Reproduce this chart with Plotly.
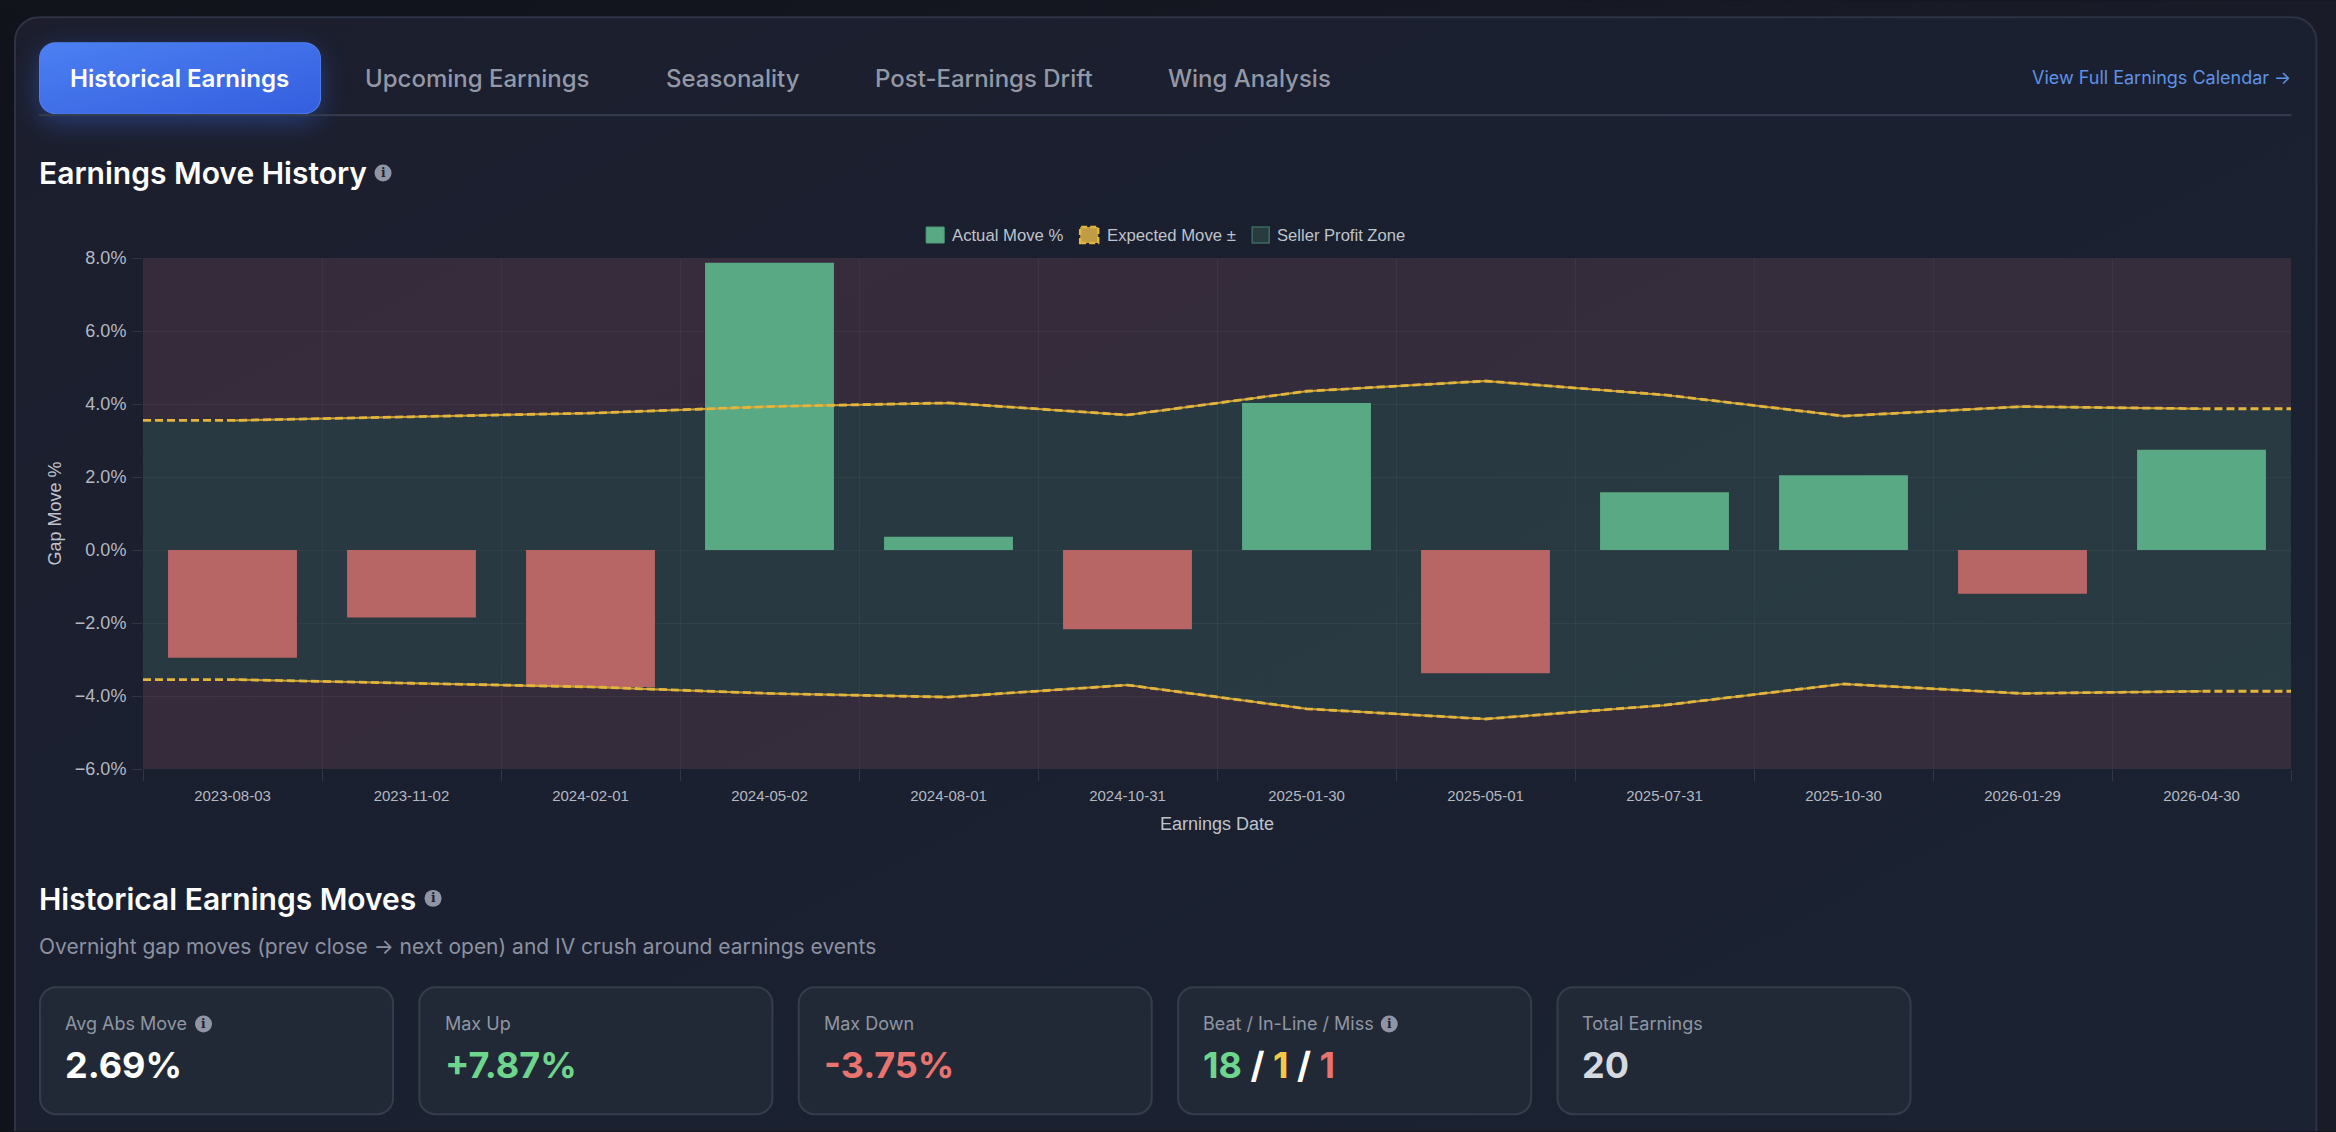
import base64
import plotly.graph_objects as go

# Earnings data
earnings_dates = ["2023-08-03", "2023-11-02", "2024-02-01", "2024-05-02", "2024-08-01", "2024-10-31",
                  "2025-01-30", "2025-05-01", "2025-07-31", "2025-10-30", "2026-01-29", "2026-04-30"]
actual_move = [-2.95, -1.85, -3.75, 7.87, 0.36, -2.17, 4.03, -3.38, 1.58, 2.05, -1.20, 2.75]
expected_move = [3.55, 3.65, 3.75, 3.93, 4.03, 3.70, 4.35, 4.63, 4.25, 3.67, 3.93, 3.87]

y_min, y_max = -6, 8
tab_labels = ["Upcoming Earnings", "Seasonality", "Post-Earnings Drift", "Wing Analysis"]
stat_labels = ["Avg Abs Move", "Max Up", "Max Down", "Beat / In-Line / Miss", "Total Earnings"]

W, H = 2336, 1132
L, R, T, B = 143.0, 2290.6, 258.0, 769.5
UI_FONT = "Inter"
CHART_FONT = "Liberation Sans"


def px(x):
    return (x - L) / (R - L)


def py(y):
    return (B - y) / (B - T)


def card_rects():
    rects = ""
    for i in range(5):
        x = 40 + i * 379.3
        rects += (f'<rect x="{x}" y="988" width="353" height="127" rx="16" '
                  'fill="#222936" stroke="#353c4a" stroke-width="2"/>')
    return rects


# Page chrome: backdrop, panel, active tab with its glow, tab rule and stat cards
page_svg = f"""<svg xmlns="http://www.w3.org/2000/svg" width="{W}" height="{H}" viewBox="0 0 {W} {H}">
<defs>
<linearGradient id="page" x1="0" y1="0" x2="1" y2="0"><stop offset="0" stop-color="#10131a"/><stop offset="1" stop-color="#191b28"/></linearGradient>
<linearGradient id="panel" x1="0" y1="0" x2="1" y2="1"><stop offset="0" stop-color="#1c1e2d"/><stop offset="0.5" stop-color="#1a2030"/><stop offset="1" stop-color="#1b2231"/></linearGradient>
<linearGradient id="tab" x1="0" y1="0" x2="1" y2="1"><stop offset="0" stop-color="#4c80f2"/><stop offset="1" stop-color="#345edf"/></linearGradient>
<filter id="glow" x="-30%" y="-60%" width="160%" height="220%"><feGaussianBlur stdDeviation="13"/></filter>
</defs>
<rect width="{W}" height="{H}" fill="url(#page)"/>
<rect x="15" y="17" width="2301" height="1200" rx="24" fill="url(#panel)" stroke="#2d3244" stroke-width="2"/>
<rect x="39" y="50" width="281" height="72" rx="16" fill="#3b6ff0" opacity="0.38" filter="url(#glow)"/>
<rect x="39.5" y="42.5" width="281" height="71" rx="16" fill="url(#tab)" stroke="#4f7ff0"/>
<rect x="39" y="114" width="2252" height="2" fill="#353c4f"/>
{card_rects()}
</svg>"""
page_uri = "data:image/svg+xml;base64," + base64.b64encode(page_svg.encode()).decode()

fig = go.Figure()
centers = list(range(len(earnings_dates)))
span_x = [-0.5] + centers + [len(centers) - 0.5]
upper = [expected_move[0]] + expected_move + [expected_move[-1]]
lower = [-v for v in upper]

# Risk and profit zones, on the base axes so they sit under the bars
RED_ZONE = "rgba(240,130,150,0.13)"
GREEN_ZONE = "rgba(140,235,190,0.13)"
no_line = dict(width=0)
fig.add_scatter(x=span_x, y=[y_max] * len(span_x), mode="lines", line=no_line, hoverinfo="skip")
fig.add_scatter(x=span_x, y=upper, mode="lines", line=no_line, fill="tonexty", fillcolor=RED_ZONE, hoverinfo="skip")
fig.add_scatter(x=span_x, y=lower, mode="lines", line=no_line, fill="tonexty", fillcolor=GREEN_ZONE, hoverinfo="skip")
fig.add_scatter(x=span_x, y=[y_min] * len(span_x), mode="lines", line=no_line, fill="tonexty", fillcolor=RED_ZONE, hoverinfo="skip")

# Actual move bars
bar_colors = ["#59a985" if v >= 0 else "#b86565" for v in actual_move]
fig.add_bar(x=centers, y=actual_move, width=0.72, xaxis="x2",
            marker=dict(color=bar_colors, line=dict(width=0)), name="Actual Move %")

# Expected move envelope: solid core between events, dashed overlay out to the edges
for series, dashed in ((expected_move, [*upper]), ([-v for v in expected_move], [*lower])):
    fig.add_scatter(x=centers, y=series, mode="lines", xaxis="x3",
                    line=dict(color="rgba(205,165,62,0.95)", width=2), hoverinfo="skip")
    fig.add_scatter(x=span_x, y=dashed, mode="lines", xaxis="x3",
                    line=dict(color="#e3b53c", width=2.8, dash="8px,4px"), name="Expected Move ±")

annotations = []
shapes = []


def text(x, y, s, size, color, weight=400, anchor="left", family=UI_FONT):
    annotations.append(dict(x=px(x), y=py(y), xref="paper", yref="paper", text=s, showarrow=False,
                            xanchor=anchor, yanchor="middle", align=anchor,
                            font=dict(family=family, size=size, color=color, weight=weight),
                            borderpad=0, borderwidth=0))


def info_icon(cx, cy, r=8.5):
    shapes.append(dict(type="circle", xref="paper", yref="paper", x0=px(cx - r), x1=px(cx + r),
                       y0=py(cy + r), y1=py(cy - r), fillcolor="#9095a5", line=dict(width=0)))
    text(cx, cy, "i", 12, "#1c2030", 800, "center", "DejaVu Serif")


# Tabs
text(179.5, 78, "Historical Earnings", 24.1, "#ffffff", 600, "center")
for x, label in zip((365, 666, 875, 1168), tab_labels):
    text(x, 78, label, 24, "#9398a6", 500)
text(2291, 77.5, "View Full Earnings Calendar →", 18, "#5f92e6", 400, "right")

# Section headings
text(39, 173, "Earnings Move History", 30, "#ffffff", 600)
info_icon(383, 173)
text(39, 899.7, "Historical Earnings Moves", 30, "#ffffff", 600)
info_icon(433, 899)
text(39, 947, "Overnight gap moves (prev close → next open) and IV crush around earnings events", 21, "#8c91a0")

# Legend swatches and labels
LEG = "#bfc3cb"
shapes.append(dict(type="rect", xref="paper", yref="paper", x0=px(926), x1=px(944), y0=py(243), y1=py(227),
                   fillcolor="#59a985", line=dict(color="#4f9a7a", width=1)))
shapes.append(dict(type="rect", xref="paper", yref="paper", x0=px(1080), x1=px(1098), y0=py(243), y1=py(227),
                   fillcolor="#c09c45", line=dict(color="#e3b53c", width=2.5, dash="6px,3px")))
shapes.append(dict(type="rect", xref="paper", yref="paper", x0=px(1252), x1=px(1269), y0=py(243), y1=py(227),
                   fillcolor="#283c40", line=dict(color="#3b6a60", width=1.5)))
text(952, 235, "Actual Move %", 16.7, LEG, family=CHART_FONT)
text(1106.5, 235, "Expected Move ±", 16.7, LEG, family=CHART_FONT)
text(1277, 235, "Seller Profit Zone", 16.6, LEG, family=CHART_FONT)

# Stat cards
GREEN, RED, YELLOW = "#6dd58c", "#e8736f", "#f5c945"
beat_miss = (f"<span style='color:{GREEN}'>18</span> / <span style='color:{YELLOW}'>1</span>"
             f" / <span style='color:{RED}'>1</span>")
stat_values = [("2.69%", "#ffffff"), ("+7.87%", GREEN), ("-3.75%", RED), (beat_miss, "#ffffff"), ("20", "#d5d9e0")]
for i, (label, (value, color)) in enumerate(zip(stat_labels, stat_values)):
    x = 65.5 + i * 379.0
    text(x, 1024.7, label, 18, "#9096a3")
    text(x, 1065.7, value, 36, color, 700)
info_icon(203.5, 1024.7)
info_icon(1389, 1024.7)

TICK = "rgba(255,255,255,0.10)"
GRID = "rgba(255,255,255,0.045)"
boundaries = [c - 0.5 for c in centers] + [centers[-1] + 0.5]
x_range = [-0.5, len(centers) - 0.5]
overlay = dict(range=x_range, overlaying="x", visible=False, fixedrange=True, anchor="y")

fig.update_layout(
    width=W, height=H, autosize=False,
    margin=dict(l=L, r=W - R, t=T, b=H - B, pad=0),
    paper_bgcolor="#12141c", plot_bgcolor="rgba(0,0,0,0)",
    showlegend=False, hovermode=False,
    font=dict(family=CHART_FONT, color="#b4b8c1"),
    xaxis=dict(range=x_range, tickmode="array", tickvals=centers, ticktext=earnings_dates,
               ticks="", showgrid=False, zeroline=False, showline=False, ticklabelstandoff=16,
               tickfont=dict(size=15, color="#b4b8c1", family=CHART_FONT),
               minor=dict(tickmode="array", tickvals=boundaries, ticks="outside", ticklen=11, tickwidth=1,
                          tickcolor=TICK, showgrid=True, gridcolor=GRID, gridwidth=1),
               title=dict(text="Earnings Date", font=dict(size=18, color="#bfc3cb", family=CHART_FONT), standoff=14)),
    xaxis2=overlay, xaxis3=overlay,
    yaxis=dict(range=[y_min, y_max], tickmode="linear", tick0=y_min, dtick=2, tickformat=".1f", ticksuffix="%",
               ticks="outside", ticklen=10, tickwidth=1, tickcolor=TICK, showgrid=True, gridcolor=GRID,
               gridwidth=1, zeroline=False, showline=False, ticklabelstandoff=2,
               tickfont=dict(size=18, color="#b4b8c1", family=CHART_FONT),
               title=dict(text="Gap Move %", font=dict(size=18, color="#bfc3cb", family=CHART_FONT), standoff=8)),
    images=[dict(source=page_uri, xref="paper", yref="paper", x=px(0), y=py(0), sizex=W / (R - L), sizey=H / (B - T),
                 xanchor="left", yanchor="top", sizing="stretch", layer="below", opacity=1)],
    annotations=annotations, shapes=shapes,
)

fig.write_html("out.html", config=dict(displayModeBar=False))
